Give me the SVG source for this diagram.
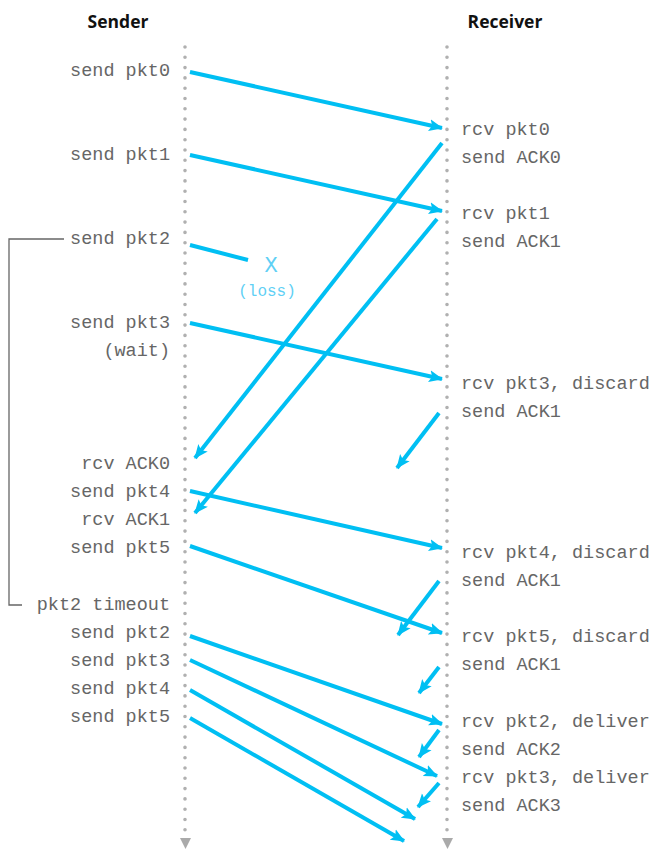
<svg xmlns="http://www.w3.org/2000/svg" width="651" height="853" viewBox="0 0 651 853">
<defs>
<marker id="ah" markerUnits="userSpaceOnUse" markerWidth="16" markerHeight="14" refX="13" refY="6" orient="auto" viewBox="0 0 16 12">
<path d="M0,0 L14,6 L0,12 L3,6 z" fill="#00BFF3"/>
</marker>
</defs>
<style>
.hd{font-family:"Open Sans","Liberation Sans",sans-serif;font-weight:bold;font-size:17.5px;fill:#111;text-anchor:middle}
.t{font-family:"Liberation Mono",monospace;font-size:18.5px;fill:#666}
.l{text-anchor:end}
.life{stroke:#b0b0b0;stroke-width:3.6;stroke-linecap:round;stroke-dasharray:0 10.3;fill:none}
.ar{stroke:#00BFF3;stroke-width:4;fill:none;marker-end:url(#ah)}
.loss{font-family:"Liberation Mono",monospace;fill:#5fd0f5;text-anchor:middle}
</style>
<rect width="651" height="853" fill="#fff"/>
<g id="sender-head"><text class="hd" x="118" y="28">Sender</text></g>
<g id="receiver-head"><text class="hd" x="505" y="28">Receiver</text></g>
<g id="lifelines">
<line class="life" x1="185" y1="47" x2="185" y2="832"/>
<path d="M180,838 L191,838 L185.5,849 z" fill="#aaa"/>
<line class="life" x1="447" y1="47" x2="447" y2="832"/>
<path d="M442,838 L453,838 L447.5,849 z" fill="#aaa"/>
</g>
<g id="bracket"><path d="M64,239 H9 V605 H22" fill="none" stroke="#666" stroke-width="1.3"/></g>
<g id="sender-labels">
<text class="t l" x="170" y="76">send pkt0</text>
<text class="t l" x="170" y="160">send pkt1</text>
<text class="t l" x="170" y="244">send pkt2</text>
<text class="t l" x="170" y="328">send pkt3</text>
<text class="t l" x="170" y="356">(wait)</text>
<text class="t l" x="170" y="469">rcv ACK0</text>
<text class="t l" x="170" y="497">send pkt4</text>
<text class="t l" x="170" y="525">rcv ACK1</text>
<text class="t l" x="170" y="553">send pkt5</text>
<text class="t l" x="170" y="610">pkt2 timeout</text>
<text class="t l" x="170" y="638">send pkt2</text>
<text class="t l" x="170" y="666">send pkt3</text>
<text class="t l" x="170" y="694">send pkt4</text>
<text class="t l" x="170" y="722">send pkt5</text>
</g>
<g id="receiver-labels">
<text class="t" x="461" y="135">rcv pkt0</text>
<text class="t" x="461" y="163">send ACK0</text>
<text class="t" x="461" y="219">rcv pkt1</text>
<text class="t" x="461" y="247">send ACK1</text>
<text class="t" x="461" y="389">rcv pkt3, discard</text>
<text class="t" x="461" y="417">send ACK1</text>
<text class="t" x="461" y="558">rcv pkt4, discard</text>
<text class="t" x="461" y="586">send ACK1</text>
<text class="t" x="461" y="642">rcv pkt5, discard</text>
<text class="t" x="461" y="670">send ACK1</text>
<text class="t" x="461" y="727">rcv pkt2, deliver</text>
<text class="t" x="461" y="755">send ACK2</text>
<text class="t" x="461" y="783">rcv pkt3, deliver</text>
<text class="t" x="461" y="811">send ACK3</text>
</g>
<g id="loss">
<text class="loss" x="271" y="272" font-size="22">X</text>
<text class="loss" x="267" y="296" font-size="16">(loss)</text>
</g>
<g id="connectors">
<line class="ar" x1="190" y1="72" x2="442" y2="128"/>
<line class="ar" x1="442" y1="143" x2="195" y2="458"/>
<line class="ar" x1="190" y1="155" x2="442" y2="211"/>
<line class="ar" x1="437" y1="219" x2="195" y2="513"/>
<line x1="190" y1="245" x2="248" y2="260" stroke="#00BFF3" stroke-width="4"/>
<line class="ar" x1="190" y1="323" x2="442" y2="379"/>
<line class="ar" x1="439" y1="413" x2="397" y2="468"/>
<line class="ar" x1="190" y1="491" x2="442" y2="548"/>
<line class="ar" x1="439" y1="581" x2="398" y2="635"/>
<line class="ar" x1="190" y1="546" x2="442" y2="633"/>
<line class="ar" x1="439" y1="667" x2="419" y2="693"/>
<line class="ar" x1="190" y1="636" x2="442" y2="724"/>
<line class="ar" x1="439" y1="730" x2="419" y2="757"/>
<line class="ar" x1="190" y1="660" x2="437" y2="776"/>
<line class="ar" x1="439" y1="783" x2="418" y2="807"/>
<line class="ar" x1="190" y1="690" x2="415" y2="819"/>
<line class="ar" x1="190" y1="718" x2="404" y2="841"/>
</g>
</svg>
